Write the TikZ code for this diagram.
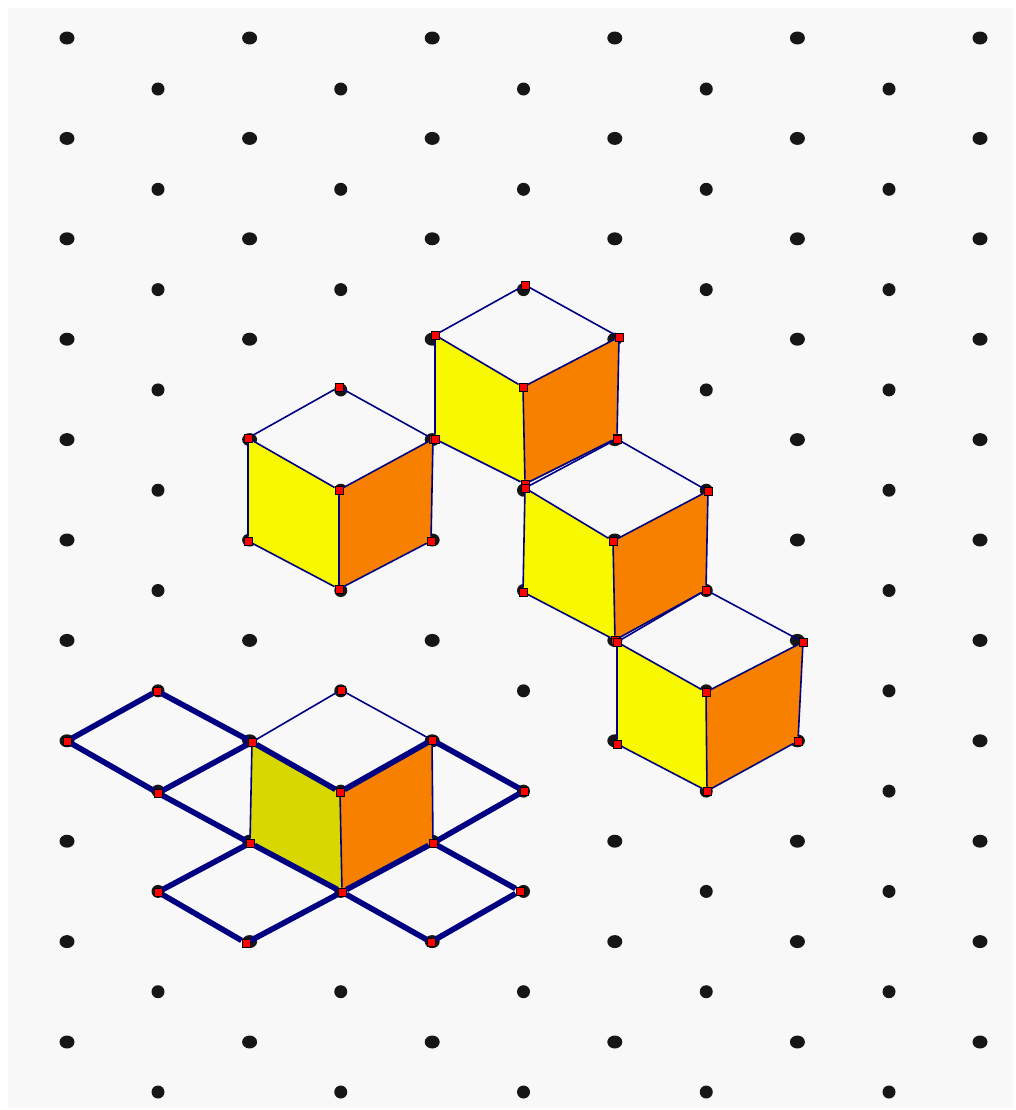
\documentclass[tikz,border=0pt]{standalone}
\usepackage{xcolor}
\usetikzlibrary{backgrounds}
\definecolor{cPaper}{HTML}{F8F8F8}
\definecolor{cDot}{HTML}{161616}
\definecolor{cLine}{HTML}{000080}
\definecolor{cRed}{HTML}{FF0000}
\definecolor{cLeft}{HTML}{F8F800}
\definecolor{cLeftDark}{HTML}{D8D800}
\definecolor{cRight}{HTML}{F88000}
\tikzset{
  handle/.style={draw=black, line width=0.25mm, fill=cRed, rectangle,
                 inner sep=0pt, minimum size=2mm},
  thinline/.style={cLine, line width=0.4mm},
  netline/.style={cLine, line width=1.4mm},
  griddot/.style={cDot}
}
% name, left face colour, then top, left, right, centre, bottom, lower left, lower right
\newcommand{\isocube}[9]{
  \node[handle] (#1t) at #3 {};
  \node[handle] (#1l) at #4 {};
  \node[handle] (#1r) at #5 {};
  \node[handle] (#1c) at #6 {};
  \node[handle] (#1b) at #7 {};
  \node[handle] (#1p) at #8 {};
  \node[handle] (#1q) at #9 {};
  \begin{scope}[on background layer]
    \fill[#2] (#1l.center)--(#1c.center)--(#1b.center)--(#1p.center)--cycle;
    \fill[cRight] (#1c.center)--(#1r.center)--(#1q.center)--(#1b.center)--cycle;
  \end{scope}
  \draw[thinline] (#1l)--(#1t)--(#1r);
  \draw[thinline] (#1l)--(#1c)--(#1r);
  \draw[thinline] (#1l)--(#1p)--(#1b)--(#1q)--(#1r);
  \draw[thinline] (#1c)--(#1b);
}
\begin{document}
\begin{tikzpicture}[x=0.25mm, y=-0.25mm]
\useasboundingbox (0,0) rectangle (1015,1110);
\begin{scope}[on background layer]
\fill[white] (0,0) rectangle (1015,1110);
\fill[cPaper] (8,8) rectangle (1013,1108);
% dot grid
\foreach \k in {0,...,10}{
  \foreach \i in {0,...,5}
    \fill[griddot] ({67+182.6*\i},{38+100.4*\k}) ellipse (7.5 and 6.5);
  \foreach \i in {0,...,4}
    \fill[griddot] ({158+182.75*\i},{89+100.3*\k}) circle (6.5);
}
\end{scope}
% cubes
\isocube{a}{cLeft}{(339,387)}{(248,438)}{(433,439)}{(339,490)}{(339,589)}{(248,541)}{(431,541)}
\isocube{b}{cLeft}{(525,285)}{(435,335)}{(619,337)}{(523,387)}{(525,484)}{(435,439)}{(617,438)}
\isocube{c}{cLeft}{(617,439)}{(525,488)}{(708,491)}{(613,541)}{(615,640)}{(523,592)}{(706,590)}
\isocube{d}{cLeft}{(706,590)}{(617,642)}{(803,642)}{(706,692)}{(707,791)}{(617,744)}{(798,741)}
\isocube{e}{cLeftDark}{(341,690)}{(252,742)}{(432,740)}{(340,792)}{(342,892)}{(250,843)}{(433,843)}
% net under the last cube
\foreach \p/\n in {(157,691)/nA,(67,741)/nB,(158,793)/nC,(524,791)/nD,(520,891)/nE,
                   (431,942)/nF,(246,943)/nG,(158,892)/nH}
  \node[handle] (\n) at \p {};
\draw[netline] (eb)--(ep)--(nC)--(nB)--(nA)--(el);
\draw[netline] (nC)--(el)--(ec)--(er)--(nD)--(eq)--(eb);
\draw[netline] (eq)--(nE)--(nF)--(eb)--(nG)--(nH)--(ep);
\end{tikzpicture}
\end{document}
